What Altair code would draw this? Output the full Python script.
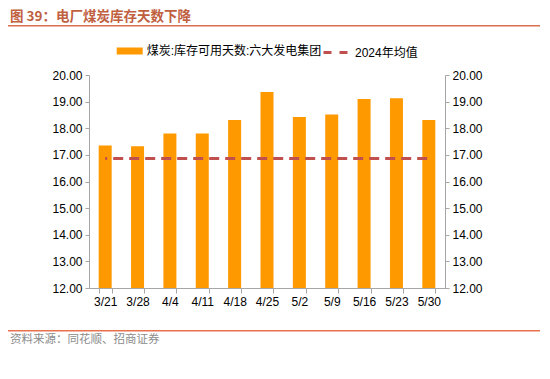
import altair as alt
import pandas as pd

dates = ["3/21", "3/28", "4/4", "4/11", "4/18", "4/25", "5/2", "5/9", "5/16", "5/23", "5/30"]
days = [17.35, 17.32, 17.80, 17.80, 18.31, 19.36, 18.42, 18.52, 19.10, 19.13, 18.31]
avg_2024 = 16.86
bar_name = "煤炭:库存可用天数:六大发电集团"
line_name = "2024年均值"
title_text = "图 39：电厂煤炭库存天数下降"
source_text = "资料来源：同花顺、招商证券"

ORANGE = "#FF9900"
RED = "#C0504D"
AXIS_GRAY = "#A6A6A6"
FONT = "Liberation Sans, Noto Sans CJK SC"
CJK = "Noto Sans CJK SC"

df = pd.DataFrame({
    "date": dates,
    "days": days,
    "avg": [avg_2024] * len(dates),
    "bar": [bar_name] * len(dates),
    "line": [line_name] * len(dates),
})

W, H = 356, 213
x_enc = alt.X(
    "date:N", sort=dates,
    scale=alt.Scale(paddingInner=0.6, paddingOuter=0.3),
    axis=alt.Axis(title=None, labelAngle=0, labelFont=FONT, labelFontSize=12,
                  labelColor="#000000", domainColor=AXIS_GRAY, tickColor=AXIS_GRAY,
                  tickSize=5, tickBand="extent", labelPadding=3, grid=False),
)
yscale = alt.Scale(domain=[12, 20], nice=False, zero=False)

def yaxis(orient):
    return alt.Axis(title=None, orient=orient, format=".2f", values=list(range(12, 21)),
                    labelFont=FONT, labelFontSize=12, labelColor="#000000",
                    domainColor=AXIS_GRAY, tickColor=AXIS_GRAY, tickSize=4,
                    labelPadding=3, grid=False)

base = alt.Chart(df)

bars = base.mark_bar(size=13).encode(
    x=x_enc,
    y=alt.Y("days:Q", scale=yscale, axis=yaxis("left")),
    y2=alt.datum(12),
    color=alt.Color("bar:N", scale=alt.Scale(range=[ORANGE]),
                    legend=alt.Legend(title=None, orient="none", legendX=27.7, legendY=-37,
                                      symbolType="M-1,-0.27H1V0.27H-1Z", symbolSize=676,
                                      symbolStrokeWidth=0, labelFont=FONT, labelFontSize=12,
                                      labelColor="#000000", labelOffset=4, labelLimit=400)),
)

line = base.mark_line(strokeWidth=3, strokeDash=[10, 6], strokeDashOffset=8).encode(
    x=x_enc,
    y=alt.Y("avg:Q", scale=yscale, axis=yaxis("right")),
    color=alt.Color("line:N", scale=alt.Scale(range=[RED]),
                    legend=alt.Legend(title=None, orient="none", legendX=233, legendY=-36,
                                      symbolType="stroke", symbolSize=576, symbolStrokeWidth=3,
                                      symbolDash=[8, 8], labelFont=FONT, labelFontSize=12,
                                      labelColor="#000000", labelOffset=6, labelLimit=400)),
)

one = alt.Data(values=[{"k": 0}])
title_mark = alt.Chart(one).mark_text(
    text=title_text, font=CJK, fontSize=13.5, fontWeight="bold", color="#C0603F",
    align="left", baseline="alphabetic").encode(x=alt.value(-79), y=alt.value(-54))
title_rule = alt.Chart(one).mark_rule(color="#D9704F", strokeWidth=1.5).encode(
    x=alt.value(-81), x2=alt.value(451), y=alt.value(-49.3))
source_rule = alt.Chart(one).mark_rule(color="#E8724F", strokeWidth=1.5).encode(
    x=alt.value(-81), x2=alt.value(451), y=alt.value(255.7))
source_mark = alt.Chart(one).mark_text(
    text=source_text, font=CJK, fontSize=11.5, color="#8C8C8C",
    align="left", baseline="alphabetic").encode(x=alt.value(-79), y=alt.value(268))

chart = alt.layer(bars, line, title_mark, title_rule, source_rule, source_mark).resolve_scale(
    y="independent", color="independent"
).properties(
    width=W, height=H,
    autosize=alt.AutoSizeParams(type="none"),
    padding={"left": 81, "top": 67, "right": 97, "bottom": 83},
).configure_view(stroke=None)

chart.save("out.html", embed_options={"renderer": "svg", "actions": False})
